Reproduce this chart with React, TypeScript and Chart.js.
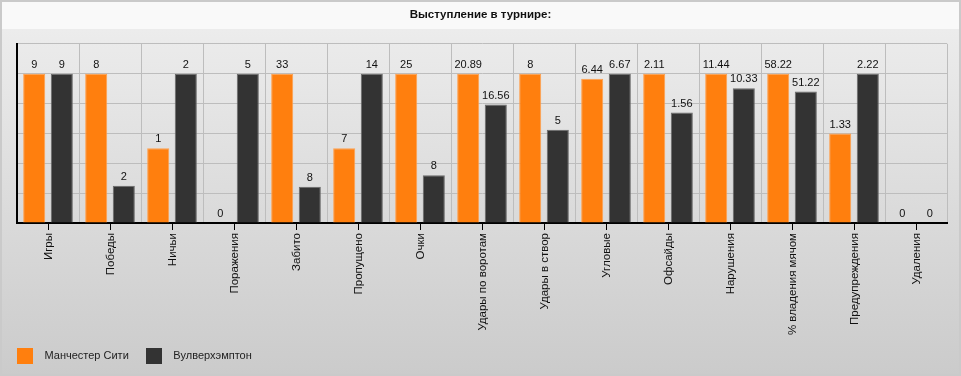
import React, { useEffect, useRef } from "react";
import { Chart, registerables } from "chart.js";

Chart.register(...registerables);

const categories = [
  "Игры",
  "Победы",
  "Ничьи",
  "Поражения",
  "Забито",
  "Пропущено",
  "Очки",
  "Удары по воротам",
  "Удары в створ",
  "Угловые",
  "Офсайды",
  "Нарушения",
  "% владения мячом",
  "Предупреждения",
  "Удаления",
];

const cityValues = [9, 8, 1, 0, 33, 7, 25, 20.89, 8, 6.44, 2.11, 11.44, 58.22, 1.33, 0];
const wolvesValues = [9, 2, 2, 5, 8, 14, 8, 16.56, 5, 6.67, 1.56, 10.33, 51.22, 2.22, 0];

const seriesNames = ["Манчестер Сити", "Вулверхэмптон"];
const titleText = "Выступление в турнире:";

const FONT = "'Liberation Sans', Arial, sans-serif";

function percentOf(a: number[], b: number[]) {
  return a.map((v, i) => {
    const m = Math.max(a[i], b[i]);
    return m > 0 ? (v / m) * 100 : 0;
  });
}

function makeSwatch(color: string) {
  const c = document.createElement("canvas");
  c.width = 16;
  c.height = 16;
  const g = c.getContext("2d")!;
  g.fillStyle = color;
  g.fillRect(0, 0, 16, 16);
  return c;
}

export default function App() {
  const ref = useRef<HTMLCanvasElement | null>(null);

  useEffect(() => {
    if (!ref.current) return;
    const rawSeries = [cityValues, wolvesValues];
    const swatches = [makeSwatch("#ff7f0e"), makeSwatch("#333333")];

    const backgroundPlugin = {
      id: "bg",
      beforeDraw(chart: any) {
        const { ctx, width, height } = chart;
        ctx.save();
        const grad = ctx.createLinearGradient(0, 29, 0, height);
        grad.addColorStop(0, "#ececec");
        grad.addColorStop(1, "#cbcbcb");
        ctx.fillStyle = grad;
        ctx.fillRect(0, 0, width, height);
        ctx.fillStyle = "#f9f9f9";
        ctx.fillRect(0, 0, width, 29);
        ctx.strokeStyle = "#cacaca";
        ctx.lineWidth = 2;
        ctx.strokeRect(1, 1, width - 2, height - 2);
        ctx.restore();
      },
    };

    const tickPlugin = {
      id: "centerTicks",
      afterDraw(chart: any) {
        const { ctx } = chart;
        const x = chart.scales.x;
        ctx.save();
        ctx.strokeStyle = "#000";
        ctx.lineWidth = 1;
        for (let i = 0; i < categories.length; i++) {
          const px = Math.round(x.getPixelForValue(i)) + 0.5;
          ctx.beginPath();
          ctx.moveTo(px, x.top);
          ctx.lineTo(px, x.top + 7);
          ctx.stroke();
        }
        ctx.restore();
      },
    };

    const labelPlugin = {
      id: "valueLabels",
      afterDatasetsDraw(chart: any) {
        const { ctx } = chart;
        ctx.save();
        ctx.font = `11px ${FONT}`;
        ctx.fillStyle = "#111";
        ctx.textAlign = "center";
        ctx.textBaseline = "middle";
        chart.data.datasets.forEach((ds: any, di: number) => {
          const meta = chart.getDatasetMeta(di);
          meta.data.forEach((bar: any, i: number) => {
            ctx.fillText(String(rawSeries[di][i]), bar.x, bar.y - 9);
          });
        });
        ctx.restore();
      },
    };

    const chart = new Chart(ref.current, {
      type: "bar",
      data: {
        labels: categories,
        datasets: [
          {
            label: seriesNames[0],
            data: percentOf(cityValues, wolvesValues),
            backgroundColor: "#ff7f0e",
            borderColor: "#ffa04d",
            borderWidth: 1,
            categoryPercentage: 0.89,
            barPercentage: 0.8,
          },
          {
            label: seriesNames[1],
            data: percentOf(wolvesValues, cityValues),
            backgroundColor: "#333333",
            borderColor: "#6a6a6a",
            borderWidth: 1,
            categoryPercentage: 0.89,
            barPercentage: 0.8,
          },
        ],
      },
      options: {
        animation: false,
        responsive: false,
        maintainAspectRatio: false,
        layout: { padding: { top: 0, left: 0, right: 0, bottom: 5 } },
        plugins: {
          title: {
            display: true,
            text: titleText,
            color: "#111",
            font: { family: FONT, size: 11.5, weight: "bold" },
            padding: { top: 8, bottom: 22 },
          },
          legend: {
            display: true,
            position: "bottom",
            align: "start",
            labels: {
              usePointStyle: true,
              pointStyleWidth: 28,
              boxHeight: 11,
              padding: 11,
              color: "#222",
              font: { family: FONT, size: 11 },
              generateLabels(chart: any) {
                const items = Chart.defaults.plugins.legend.labels.generateLabels(chart);
                items.forEach((it: any, i: number) => {
                  it.pointStyle = swatches[i];
                });
                return items;
              },
            },
          },
          tooltip: { enabled: false },
        },
        scales: {
          x: {
            grid: {
              display: true,
              color: "#bdbdbd",
              lineWidth: 1,
              drawTicks: false,
              offset: true,
            },
            border: { display: true, color: "#000", width: 2 },
            ticks: {
              autoSkip: false,
              maxRotation: 90,
              minRotation: 90,
              padding: 10,
              labelOffset: 1,
              color: "#111",
              font: { family: FONT, size: 11.5 },
            },
            afterFit(scale: any) {
              scale.height = 116;
            },
          },
          y: {
            min: 0,
            max: 120,
            ticks: { display: false, stepSize: 20 },
            grid: { color: "#bdbdbd", lineWidth: 1, drawTicks: false },
            border: { display: true, color: "#000", width: 2 },
            afterFit(scale: any) {
              scale.width = 17;
            },
          },
          yRight: {
            position: "right",
            display: true,
            ticks: { display: false },
            grid: { display: false, drawTicks: false },
            border: { display: false },
            afterFit(scale: any) {
              scale.width = 14;
            },
          },
        },
      },
      plugins: [backgroundPlugin, tickPlugin, labelPlugin],
    } as any);

    return () => chart.destroy();
  }, []);

  return (
    <div style={{ position: "absolute", left: 0, top: 0, width: 961, height: 376 }}>
      <canvas ref={ref} width={961} height={376} style={{ width: 961, height: 376, display: "block" }} />
    </div>
  );
}
